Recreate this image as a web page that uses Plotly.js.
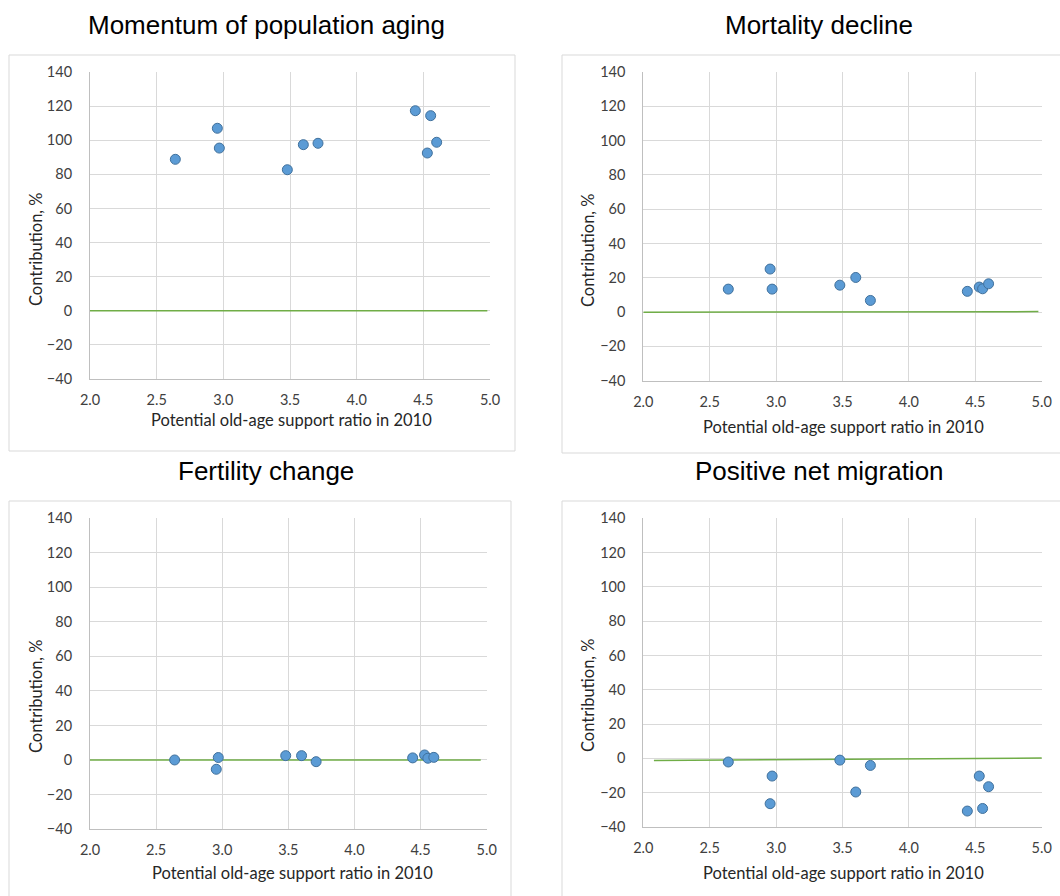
<!DOCTYPE html>
<html>
<head>
<meta charset="utf-8">
<script src="https://cdn.plot.ly/plotly-3.0.1.min.js"></script>
<style>html,body{margin:0;padding:0;background:#fff;}#chart{width:1060px;height:896px;}</style>
</head>
<body>
<div id="chart"></div>
<script>
// ---- data ----
const supportRatio = [2.64, 2.955, 2.97, 3.48, 3.60, 3.71, 4.44, 4.53, 4.555, 4.60];
const momentum  = [88.8, 107.0, 95.4, 82.7, 97.4, 98.2, 117.3, 92.5, 114.4, 98.8];
const mortality = [13.4, 25.1, 13.4, 15.7, 20.2, 6.8, 12.1, 14.6, 13.6, 16.5];
const fertility = [0.0, -5.4, 1.4, 2.5, 2.5, -1.0, 1.2, 2.9, 1.0, 1.5];
const migration = [-2.1, -26.4, -10.3, -1.0, -19.6, -4.1, -30.7, -10.3, -29.2, -16.5];
const panelTitles = ["Momentum of population aging", "Mortality decline", "Fertility change", "Positive net migration"];
// green reference lines (as drawn in each panel)
const refLineX = [[2.0, 4.98], [2.0, 4.975], [2.0, 4.955], [2.08, 5.06]];
const refLineY = [[0, 0], [-0.1, 0.3], [0, 0], [-1.2, 0.2]];
const xTitle = "Potential old-age support ratio in 2010";
const yTitle = "Contribution, %";

const W = 1060, H = 896;
const px = x => x / W;
const py = y => 1 - y / H;

const series = [momentum, mortality, fertility, migration];
// plot areas in pixels [left, right, top, bottom]
const areas = [[90, 490, 72, 379], [643.3, 1041.7, 72, 380.7], [90, 486.7, 518.3, 829], [643.3, 1041.7, 518.3, 827]];
const frames = [[9, 515, 55, 451], [562, 1070, 55, 453], [9, 511, 501, 910], [562, 1070, 501, 910]];
const titlePos = [[266, 25], [819, 25], [266, 471], [819, 471]];
const xTitlePos = [[291, 420], [843, 427], [292, 873], [843, 873]];
const yTitlePos = [[36, 249], [588, 250], [36, 696], [588, 695]];

const traces = [];
const layout = {
  width: W, height: H,
  margin: {l: 0, r: 0, t: 0, b: 0},
  paper_bgcolor: "#fff", plot_bgcolor: "#fff",
  showlegend: false,
  font: {family: "Lato, 'Open Sans', sans-serif", color: "#404040"},
  shapes: [], annotations: []
};

for (let i = 0; i < 4; i++) {
  const n = i === 0 ? "" : String(i + 1);
  const xa = "x" + n, ya = "y" + n;
  traces.push({
    x: refLineX[i], y: refLineY[i], xaxis: xa, yaxis: ya,
    type: "scatter", mode: "lines",
    line: {color: "#70AD47", width: 1.5}, hoverinfo: "skip"
  });
  traces.push({
    x: supportRatio, y: series[i], xaxis: xa, yaxis: ya,
    type: "scatter", mode: "markers",
    marker: {size: 10, color: "#5B9BD5", line: {color: "#41719C", width: 1}}
  });
  const a = areas[i];
  layout["xaxis" + n] = {
    domain: [px(a[0]), px(a[1])], anchor: ya,
    range: [2, 5], dtick: 0.5, tick0: 2, tickformat: ".1f",
    showgrid: true, gridcolor: "#D9D9D9", gridwidth: 1,
    zeroline: false, showline: true, linecolor: "#BFBFBF", linewidth: 1, mirror: false,
    ticks: "", ticklabelstandoff: 8,
    tickfont: {family: "Lato, sans-serif", size: 14.5, color: "#404040"},
    fixedrange: true
  };
  layout["yaxis" + n] = {
    domain: [py(a[3]), py(a[2])], anchor: xa,
    range: [-40, 140], dtick: 20, tick0: 0,
    showgrid: true, gridcolor: "#D9D9D9", gridwidth: 1,
    zeroline: false, showline: true, linecolor: "#BFBFBF", linewidth: 1,
    ticks: "", ticklabelstandoff: 14,
    tickfont: {family: "Lato, sans-serif", size: 14.5, color: "#404040"},
    fixedrange: true
  };
  const f = frames[i];
  layout.shapes.push({
    type: "rect", xref: "paper", yref: "paper",
    x0: px(f[0]), x1: px(f[1]), y0: py(f[3]), y1: py(f[2]),
    line: {color: "#D9D9D9", width: 1}, fillcolor: "rgba(0,0,0,0)", layer: "below"
  });
  layout.annotations.push({
    text: panelTitles[i], xref: "paper", yref: "paper",
    x: px(titlePos[i][0]), y: py(titlePos[i][1]), xanchor: "center", yanchor: "middle",
    showarrow: false, font: {family: "'Liberation Sans', Arial, sans-serif", size: 26, color: "#000"}
  });
  layout.annotations.push({
    text: xTitle, xref: "paper", yref: "paper",
    x: px(xTitlePos[i][0]), y: py(xTitlePos[i][1]), xanchor: "center", yanchor: "middle",
    showarrow: false, font: {family: "Lato, sans-serif", size: 16.5, color: "#262626"}
  });
  layout.annotations.push({
    text: yTitle, xref: "paper", yref: "paper", textangle: -90,
    x: px(yTitlePos[i][0]), y: py(yTitlePos[i][1]), xanchor: "center", yanchor: "middle",
    showarrow: false, font: {family: "Lato, sans-serif", size: 16.5, color: "#262626"}
  });
}

Plotly.newPlot("chart", traces, layout, {displayModeBar: false, staticPlot: true});
</script>
</body>
</html>
